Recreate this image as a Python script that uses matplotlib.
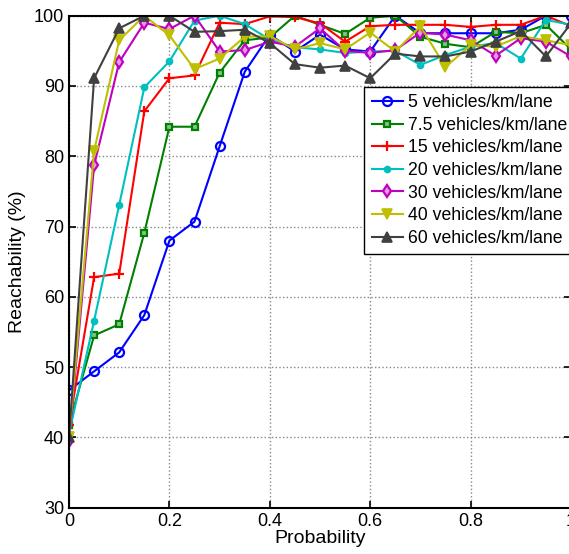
import matplotlib
matplotlib.use("Agg")
import matplotlib.pyplot as plt
import numpy as np

plt.rcParams['font.family'] = ['Liberation Sans', 'DejaVu Sans']

prob = np.round(np.arange(0, 1.0001, 0.05), 2)

# reachability (%), one list per density
r5 = [46.7, 49.4, 52.1, 57.4, 68.0, 70.7, 81.4, 92.0, 97.3, 94.9, 97.3, 95.2, 94.9, 100.0,
      97.5, 97.5, 97.5, 97.5, 98.0, 100.0, 100.0]
r7_5 = [41.8, 54.5, 56.1, 69.1, 84.2, 84.2, 91.9, 96.5, 96.9, 100.0, 98.7, 97.4, 99.7, 100.0,
        97.0, 96.0, 95.5, 97.7, 97.5, 98.7, 95.2]
r15 = [41.8, 62.8, 63.3, 86.4, 91.1, 91.5, 99.0, 98.8, 99.9, 99.8, 98.9, 96.3, 98.5, 98.7,
       98.7, 98.7, 98.4, 98.7, 98.7, 100.0, 98.5]
r20 = [40.5, 56.6, 73.1, 89.8, 93.5, 99.3, 100.0, 98.8, 96.6, 95.5, 95.2, 94.7, 94.9, 95.0,
       93.0, 94.4, 95.6, 96.1, 93.9, 99.4, 98.7]
r30 = [39.5, 78.7, 93.4, 99.0, 98.1, 100.0, 94.9, 95.1, 96.3, 95.6, 98.2, 95.0, 94.7, 95.1,
       97.6, 97.3, 96.5, 94.3, 96.8, 96.3, 94.2]
r40 = [40.0, 80.8, 96.5, 100.0, 97.2, 92.4, 93.9, 97.0, 97.1, 95.2, 96.1, 95.2, 97.6, 94.9,
       98.5, 92.7, 95.8, 95.6, 97.1, 96.5, 95.8]
r60 = [40.0, 91.1, 98.2, 100.0, 100.0, 97.7, 97.8, 98.0, 96.1, 93.1, 92.6, 92.9, 91.1, 94.6,
       94.2, 94.2, 94.9, 96.3, 97.8, 94.2, 98.9]

labels = ['5 vehicles/km/lane', '7.5 vehicles/km/lane', '15 vehicles/km/lane',
          '20 vehicles/km/lane', '30 vehicles/km/lane', '40 vehicles/km/lane',
          '60 vehicles/km/lane']
series = [r5, r7_5, r15, r20, r30, r40, r60]

styles = [
    dict(color=(0, 0, 1), marker='o', mfc='none', ms=6.5, mew=1.6),
    dict(color=(0, 0.5, 0), marker='s', mfc=(0.55, 0.75, 0.55), ms=5, mew=1.6),
    dict(color=(1, 0, 0), marker='+', ms=7, mew=1.6),
    dict(color=(0, 0.75, 0.75), marker='.', ms=9),
    dict(color=(0.75, 0, 0.75), marker='d', mfc=(0.9, 0.6, 0.9), ms=6, mew=1.6),
    dict(color=(0.75, 0.75, 0), marker='v', ms=7, mew=1.2),
    dict(color=(0.25, 0.25, 0.25), marker='^', ms=7, mew=1.2),
]

fig = plt.figure(figsize=(5.69, 5.54), dpi=100)
ax = fig.add_axes([0.1213, 0.0836, 0.8822, 0.8881])

for vals, lab, st in zip(series, labels, styles):
    ax.plot(prob, vals, lw=1.5, label=lab, **st)

ax.set_xlim(0, 1)
ax.set_ylim(30, 100)
ax.set_xticks(np.arange(0, 1.01, 0.2))
ax.set_xticklabels(['0', '0.2', '0.4', '0.6', '0.8', '1'])
ax.set_yticks(np.arange(30, 101, 10))
ax.tick_params(direction='in', labelsize=13, length=5, width=1.2, top=True, right=True)
ax.grid(True, linestyle=':', color='#888888', lw=1)
for sp in ax.spines.values():
    sp.set_linewidth(1.5)

ax.set_xlabel('Probability', fontsize=14, labelpad=0)
ax.set_ylabel('Reachability (%)', fontsize=14, labelpad=6)

leg = ax.legend(loc='upper right', bbox_to_anchor=(1.006, 0.855), fontsize=12.7,
                fancybox=False, edgecolor='black', framealpha=1,
                handlelength=1.8, handletextpad=0.25, borderpad=0.4, labelspacing=0.32,
                borderaxespad=0)
leg.get_frame().set_linewidth(1.0)

fig.savefig('out.png', dpi=100)
